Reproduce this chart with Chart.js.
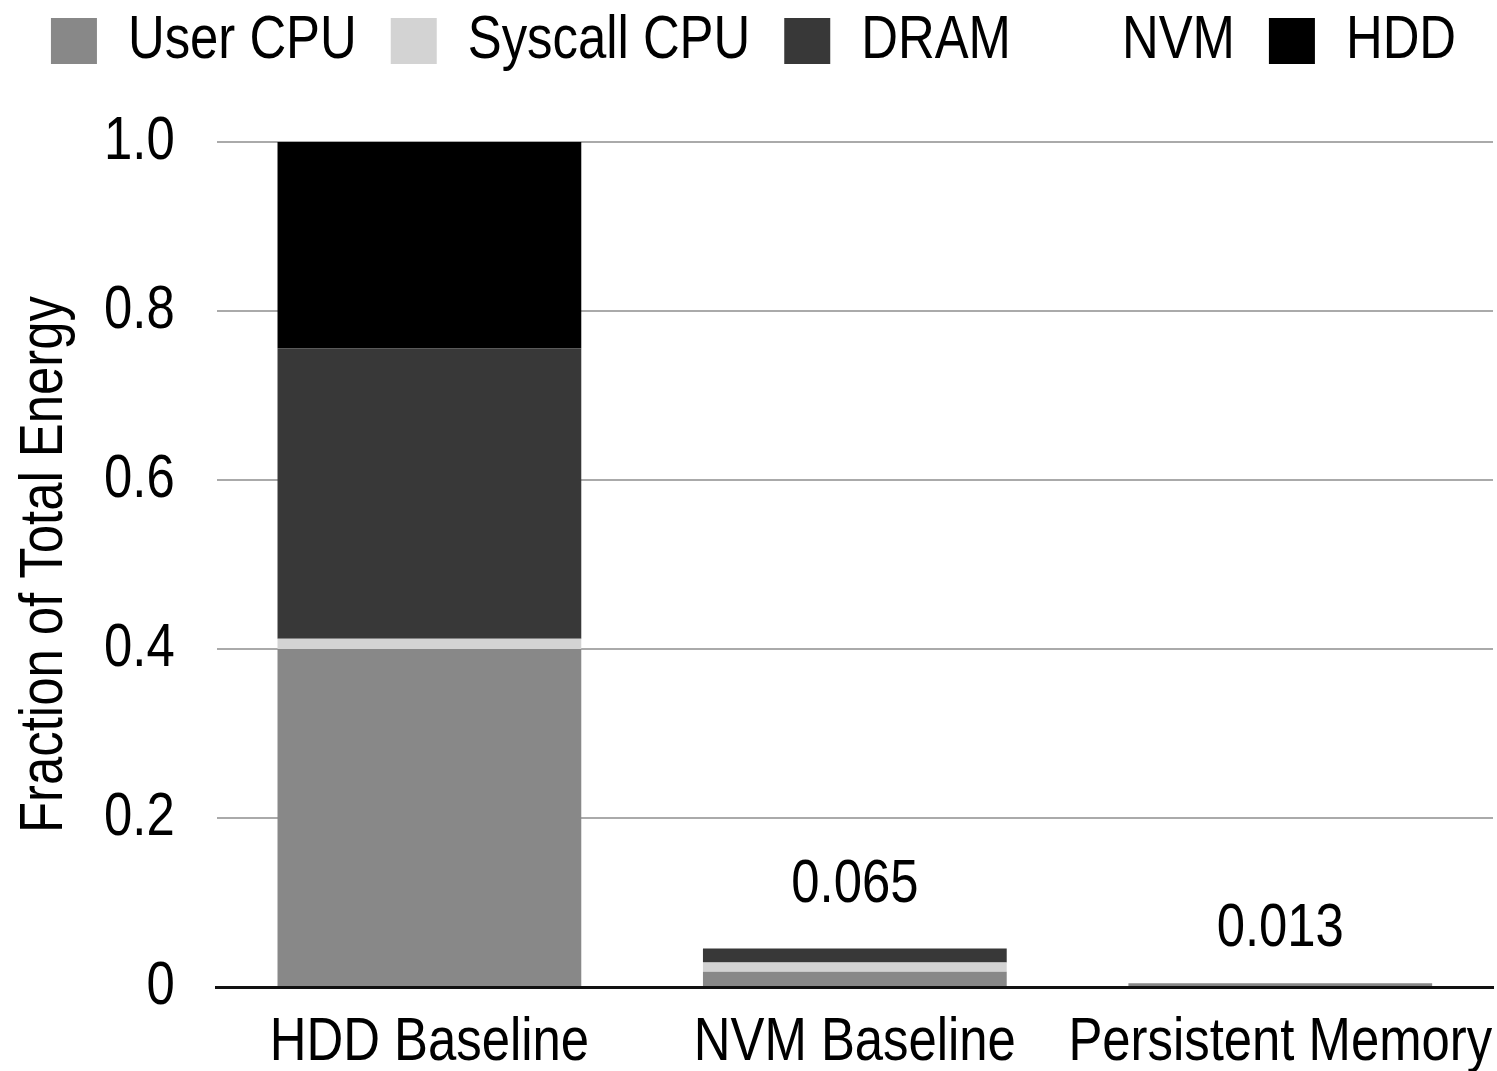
<!DOCTYPE html>
<html>
<head>
<meta charset="utf-8">
<script src="https://cdn.jsdelivr.net/npm/chart.js@4/dist/chart.umd.min.js"></script>
<style>
html,body{margin:0;padding:0;background:#fff}
#wrap{position:relative;width:1497px;height:1071px}
</style>
</head>
<body>
<div id="wrap"><canvas id="energyChart" width="1497" height="1071"></canvas></div>
<script>
// 데이터
const categories=['HDD Baseline','NVM Baseline','Persistent Memory'];
const userCpu=[0.400,0.018,0.0045];
const syscallCpu=[0.012,0.011,0];
const dram=[0.344,0.0165,0];
const nvm=[0,0.0195,0.0085];
const hdd=[0.244,0,0];
const totalLabels=['','0.065','0.013'];
const yTicks=[0,0.2,0.4,0.6,0.8,1.0];

const FONT="'Liberation Sans',Arial,sans-serif";
const FS=62;
Chart.defaults.font.family=FONT;
Chart.defaults.color='#000';

// 좁은 글꼴 흉내: 글자를 가로로 눌러 그림
const cv=document.getElementById('energyChart');
const c2=cv.getContext('2d');
const SX=0.82;
const rawFill=c2.fillText.bind(c2),rawMeasure=c2.measureText.bind(c2);
c2.fillText=function(t,x,y){this.save();this.translate(x,y);this.scale(SX,1);rawFill(t,0,0);this.restore();};
c2.measureText=function(t){const m=rawMeasure(t);return {width:m.width*SX,actualBoundingBoxAscent:m.actualBoundingBoxAscent,actualBoundingBoxDescent:m.actualBoundingBoxDescent,actualBoundingBoxLeft:m.actualBoundingBoxLeft*SX,actualBoundingBoxRight:m.actualBoundingBoxRight*SX};};

// 범례 아래 여백
const legendGap={id:'legendGap',beforeInit(chart){
  const fit=chart.legend.fit;
  chart.legend.fit=function(){fit.bind(chart.legend)();this.height+=60;};
}};

// 막대 위 합계 라벨
const totalPlugin={id:'totals',afterDatasetsDraw(chart){
  const {ctx,scales:{x,y}}=chart;
  ctx.save();
  ctx.font=FS+'px '+FONT;ctx.fillStyle='#000';ctx.textAlign='center';ctx.textBaseline='alphabetic';
  categories.forEach((c,i)=>{
    if(!totalLabels[i])return;
    const sum=userCpu[i]+syscallCpu[i]+dram[i]+nvm[i]+hdd[i];
    ctx.fillText(totalLabels[i],x.getPixelForValue(i),y.getPixelForValue(sum)-30);
  });
  ctx.restore();
}};

new Chart(cv,{type:'bar',
  data:{labels:categories,datasets:[
    {label:'User CPU',data:userCpu,backgroundColor:'#888888'},
    {label:'Syscall CPU',data:syscallCpu,backgroundColor:'#d3d3d3'},
    {label:'DRAM',data:dram,backgroundColor:'#383838'},
    {label:'NVM',data:nvm,backgroundColor:'#ffffff'},
    {label:'HDD',data:hdd,backgroundColor:'#000000'}
  ]},
  options:{responsive:false,animation:false,
    layout:{padding:{left:14,right:4,top:-24,bottom:-28}},
    datasets:{bar:{categoryPercentage:1,barPercentage:0.714,borderWidth:0}},
    plugins:{tooltip:{enabled:false},
      legend:{position:'top',align:'center',labels:{font:{size:FS},boxWidth:46,boxHeight:46,padding:34,color:'#000'}}},
    scales:{
      x:{stacked:true,grid:{display:false,drawTicks:false},border:{color:'#111',width:3},
        ticks:{font:{size:FS,lineHeight:1},color:'#000',padding:25,maxRotation:0,autoSkip:false},
        afterFit:s=>{s.paddingLeft=0;s.paddingRight=0;}},
      y:{stacked:true,min:0,max:1,afterBuildTicks:s=>{s.ticks=yTicks.map(v=>({value:v}))},
        grid:{color:'#aaaaaa',lineWidth:2,drawTicks:false},border:{display:false},
        ticks:{font:{size:FS},color:'#000',padding:42,callback:v=>v===0?'0':v.toFixed(1)},
        title:{display:true,text:'Fraction of Total Energy',font:{size:FS,lineHeight:1},color:'#000',padding:{top:0,bottom:-14}}}
    }
  },
  plugins:[totalPlugin,legendGap]
});
</script>
</body>
</html>
